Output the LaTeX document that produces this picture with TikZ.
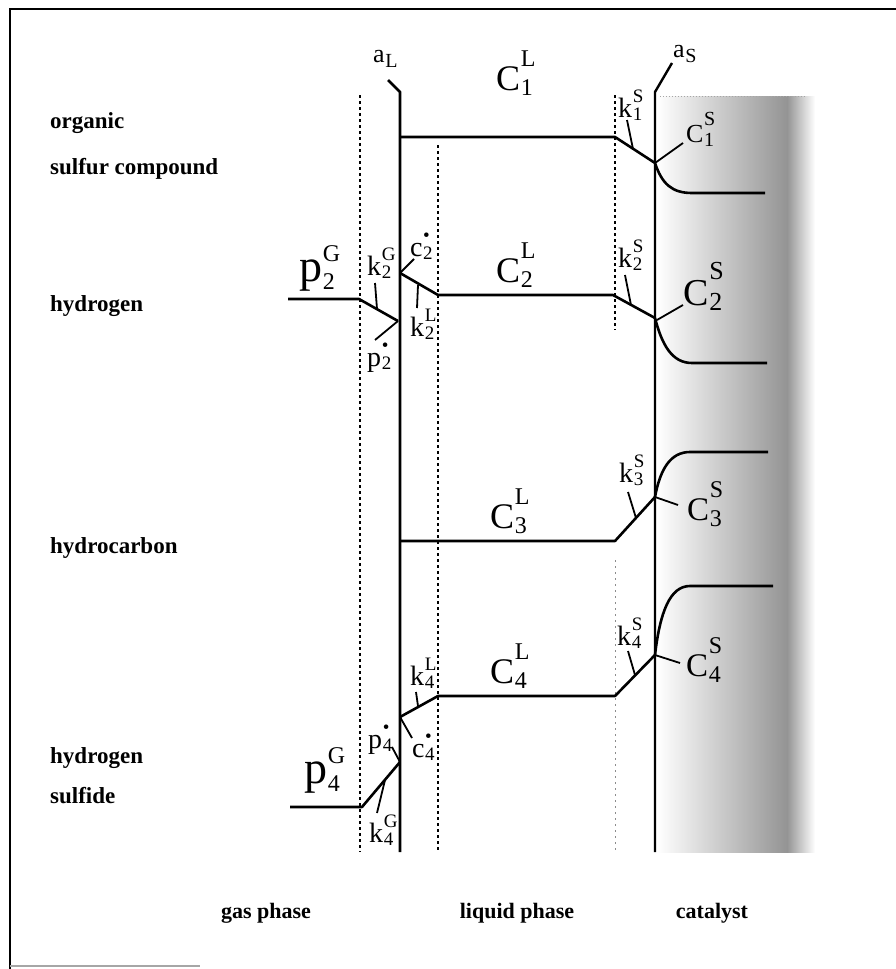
\documentclass[tikz,border=0pt]{standalone}
\usepackage{fontspec}
\setmainfont{Liberation Serif}
% base, sup, sub, base size, script size, raise of sup, drop of sub
\newcommand{\lab}[7]{{\fontsize{#4}{#4}\selectfont #1}{\fontsize{#5}{#5}\selectfont\kern0.03em\rlap{\raisebox{#6}{#2}}\raisebox{-#7}{#3}}}
\newcommand{\kl}[3]{\lab{#1}{#2}{#3}{28}{19}{15pt}{3pt}}
\newcommand{\cl}[3]{\lab{#1}{#2}{#3}{36}{24}{24pt}{5pt}}
\begin{document}
\begin{tikzpicture}[x=1pt,y=-1pt,
  wall/.style={line width=2.8pt, line join=round},
  conc/.style={line width=2.6pt, line join=round},
  tick/.style={line width=1.8pt},
  film/.style={line width=1.5pt, dash pattern=on 3pt off 3pt},
  faintfilm/.style={line width=0.8pt, black!45, dash pattern=on 2pt off 4pt},
  spec/.style={font=\bfseries\fontsize{23}{26}\selectfont, anchor=base west, inner sep=0pt},
  phase/.style={font=\bfseries\fontsize{22}{26}\selectfont, anchor=base, inner sep=0pt},
  lbl/.style={inner sep=0pt, anchor=base west},
]
\useasboundingbox (0,0) rectangle (896,969);
% catalyst shading
\shade[left color=white, right color=black!42] (657,96) rectangle (787,852);
\shade[left color=black!42, right color=white] (787,96) rectangle (815,852);
\draw[black!35, line width=0.8pt, dash pattern=on 1pt off 2pt] (660,96) -- (805,96);
% frame
\draw[line width=2pt] (10,969) -- (10,9) -- (896,9);
\draw[black!35, line width=1.2pt] (10,966) -- (200,966);
% films
\draw[film] (360,95) -- (360,852);
\draw[film] (438,145) -- (438,852);
\draw[film] (615,95) -- (615,330);
\draw[faintfilm] (615,560) -- (615,852);
% interfaces
\coordinate (aLt) at (388,80);
\coordinate (aLk) at (400,92);
\coordinate (aLb) at (400,852);
\coordinate (aSt) at (672,63);
\coordinate (aSk) at (655,92);
\coordinate (aSb) at (655,852);
\draw[wall] (aLt) -- (aLk) -- (aLb);
\draw[wall, line width=2.4pt] (aSt) -- (aSk) -- (aSb);
\node[lbl] (aL) at (373,62) {\lab{a}{}{L}{26}{20}{0pt}{5pt}};
\node[lbl] (aS) at (673,57) {\lab{a}{}{S}{26}{20}{0pt}{5pt}};
% row 1: organic sulfur compound
\draw[conc] (400,137) -- (615,137) -- (655,163);
\draw[conc] (655,163) .. controls (662,184) and (672,193) .. (692,193) -- (765,193);
\draw[tick] (633,149) -- (627,120);
\draw[tick] (655,163) -- (683,143);
\node[lbl] (c1L) at (496,90) {\cl{C}{L}{1}};
\node[lbl] (k1S) at (618,117) {\kl{k}{S}{1}};
\node[lbl] (c1S) at (686,142) {\lab{C}{S}{1}{26}{20}{17pt}{4pt}};
% row 2: hydrogen
\draw[conc] (288,299) -- (359,299) -- (398,321);
\draw[conc] (400,273) -- (438,295) -- (613,295) -- (655,318);
\draw[conc] (655,318) .. controls (662,345) and (672,363) .. (692,363) -- (767,363);
\draw[tick] (377,309) -- (375,283);
\draw[tick] (398,321) -- (375,340);
\draw[tick] (400,273) -- (414,259);
\draw[tick] (418,285) -- (417,308);
\draw[tick] (631,305) -- (625,275);
\draw[tick] (657,320) -- (683,305);
\node[lbl] (p2G) at (299,281) {\lab{p}{G}{2}{46}{24}{20pt}{8pt}};
\node[lbl] (k2G) at (367,275) {\kl{k}{G}{2}};
\node[lbl] (p2s) at (367,366) {\kl{p}{\textbullet}{2}};
\node[lbl] (c2s) at (410,256) {\kl{c}{\textbullet}{2}};
\node[lbl] (k2L) at (410,336) {\kl{k}{L}{2}};
\node[lbl] (c2L) at (496,282) {\cl{C}{L}{2}};
\node[lbl] (k2S) at (618,267) {\kl{k}{S}{2}};
\node[lbl] (c2S) at (683,305) {\lab{C}{S}{2}{38}{26}{26pt}{5pt}};
% row 3: hydrocarbon
\draw[conc] (400,541) -- (615,541) -- (655,497);
\draw[conc] (655,497) .. controls (660,470) and (670,452) .. (690,452) -- (768,452);
\draw[tick] (636,518) -- (628,492);
\draw[tick] (655,497) -- (678,505);
\node[lbl] (c3L) at (490,528) {\cl{C}{L}{3}};
\node[lbl] (k3S) at (619,482) {\kl{k}{S}{3}};
\node[lbl] (c3S) at (687,520) {\lab{C}{S}{3}{33}{24}{23pt}{6pt}};
% row 4: hydrogen sulfide
\draw[conc] (290,807) -- (362,807) -- (400,762);
\draw[conc] (400,717) -- (438,696) -- (615,696) -- (655,655);
\draw[conc] (655,655) .. controls (660,612) and (670,586) .. (690,586) -- (773,586);
\draw[tick] (385,780) -- (377,813);
\draw[tick] (400,762) -- (392,747);
\draw[tick] (400,717) -- (412,738);
\draw[tick] (418,706) -- (416,692);
\draw[tick] (635,675) -- (628,651);
\draw[tick] (655,655) -- (680,663);
\node[lbl] (p4G) at (304,783) {\lab{p}{G}{4}{46}{24}{20pt}{8pt}};
\node[lbl] (k4G) at (369,842) {\kl{k}{G}{4}};
\node[lbl] (p4s) at (368,748) {\kl{p}{\textbullet}{4}};
\node[lbl] (c4s) at (412,757) {\kl{c}{\textbullet}{4}};
\node[lbl] (k4L) at (410,685) {\kl{k}{L}{4}};
\node[lbl] (c4L) at (490,683) {\cl{C}{L}{4}};
\node[lbl] (k4S) at (617,645) {\kl{k}{S}{4}};
\node[lbl] (c4S) at (686,676) {\lab{C}{S}{4}{33}{24}{23pt}{6pt}};
% species labels
\node[spec] (sp1a) at (50,128) {organic};
\node[spec] (sp1b) at (50,174) {sulfur compound};
\node[spec] (sp2) at (50,311) {hydrogen};
\node[spec] (sp3) at (50,553) {hydrocarbon};
\node[spec] (sp4a) at (50,763) {hydrogen};
\node[spec] (sp4b) at (50,803) {sulfide};
% phase labels
\node[phase] (gas) at (266,918) {gas phase};
\node[phase] (liq) at (517,918) {liquid phase};
\node[phase] (cat) at (712,918) {catalyst};
\end{tikzpicture}
\end{document}
